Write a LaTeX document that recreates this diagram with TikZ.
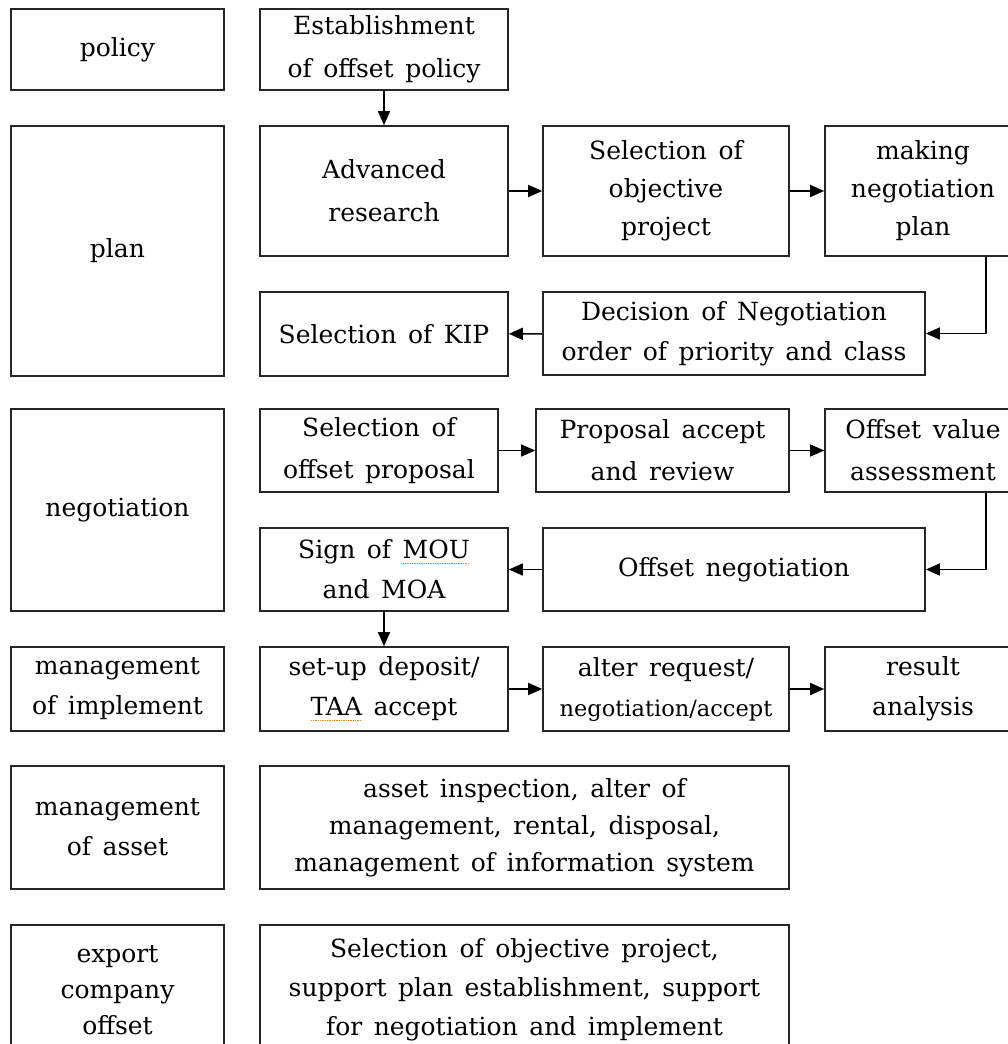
\documentclass[tikz,border=0pt]{standalone}
\usepackage{fontspec}
\setmainfont{DejaVu Serif}
\usetikzlibrary{arrows.meta}
\newsavebox\sqbox
\newcommand\squig[1]{\sbox\sqbox{#1}\rlap{\color{orange}\lower5pt\hbox to\wd\sqbox{\xleaders\hbox{\rule{1.3pt}{1.3pt}\hskip1pt}\hfill}}\usebox\sqbox}
\newcommand\fs[2]{\fontsize{#1}{#2}\selectfont\spaceskip=0.46em plus 0.1em minus 0.05em\relax}
\begin{document}
\begin{tikzpicture}[x=1pt,y=-1pt,
  box/.style={draw=black!85, line width=1.6pt, rectangle, align=center, inner sep=0pt,
    font=\fs{25}{40}},
  arr/.style={-{Triangle[length=14pt,width=12pt]}, line width=1.5pt, draw=black}]
\useasboundingbox (0,0) rectangle (1008,1044);
\clip (0,0) rectangle (1008,1044);
% left column
\node[box, minimum width=213pt, minimum height=81pt]  (pol)  at (117.5,49.5) {policy};
\node[box, minimum width=213pt, minimum height=250pt] (plan) at (117.5,251)  {plan};
\node[box, minimum width=213pt, minimum height=202pt] (neg)  at (117.5,510)  {negotiation};
\node[box, minimum width=213pt, minimum height=84pt]  (mim)  at (117.5,689)  {management\\of implement};
\node[box, minimum width=213pt, minimum height=123pt] (mas)  at (117.5,827.5) {management\\of asset};
\node[box, minimum width=213pt, minimum height=130pt, font=\fs{25}{36}] (exp) at (117.5,990) {export\\company\\offset};
% policy row
\node[box, minimum width=248pt, minimum height=81pt, font=\fs{25}{43}]  (est)  at (384,49.5) {Establishment\\of offset policy};
% plan rows
\node[box, minimum width=248pt, minimum height=130pt, font=\fs{25}{43}] (adv)  at (384,191) {Advanced\\research};
\node[box, minimum width=246pt, minimum height=130pt, font=\fs{25}{38}] (selobj) at (666,191) {Selection of\\objective\\project};
\node[box, minimum width=196pt, minimum height=130pt, font=\fs{25}{38}] (mk) at (923,191) {making\\negotiation\\plan};
\node[box, minimum width=248pt, minimum height=84pt]  (kip)  at (384,334) {Selection of KIP};
\node[box, minimum width=382pt, minimum height=83pt]  (dec)  at (734,333.5) {Decision of Negotiation\\order of priority and class};
% negotiation rows
\node[box, minimum width=238pt, minimum height=83pt, font=\fs{25}{42}]  (selprop) at (379,450.5) {Selection of\\offset proposal};
\node[box, minimum width=253pt, minimum height=83pt, font=\fs{25}{42}]  (prop) at (662.5,450.5) {Proposal accept\\and review};
\node[box, minimum width=196pt, minimum height=83pt, font=\fs{25}{42}]  (ofv)  at (923,450.5) {Offset value\\assessment};
\node[box, minimum width=248pt, minimum height=83pt]  (sign) at (384,569.5) {Sign of \squig{MOU}\\and MOA};
\node[box, minimum width=382pt, minimum height=83pt]  (ofn)  at (734,569.5) {Offset negotiation};
% implement row
\node[box, minimum width=248pt, minimum height=84pt]  (setup) at (384,689) {set-up deposit/\\\squig{TAA} accept};
\node[box, minimum width=246pt, minimum height=84pt] (alt) at (666,689) {alter request/\\{\fs{22.5}{40}negotiation/accept}};
\node[box, minimum width=196pt, minimum height=84pt]  (res)  at (923,689) {result\\analysis};
% asset and export
\node[box, minimum width=529pt, minimum height=123pt, font=\fs{25}{37}] (asi) at (524.5,827.5) {asset inspection, alter of\\management, rental, disposal,\\management of information system};
\node[box, minimum width=529pt, minimum height=130pt, font=\fs{25}{39}] (sup) at (524.5,990) {Selection of objective project,\\support plan establishment, support\\for negotiation and implement};
% connectors
\draw[arr] (est) -- (adv);
\draw[arr] (adv) -- (selobj);
\draw[arr] (selobj) -- (mk);
\draw[arr] (mk.south) ++(63,0) |- (dec.east);
\draw[arr] (dec) -- (kip);
\draw[arr] (selprop) -- (prop);
\draw[arr] (prop) -- (ofv);
\draw[arr] (ofv.south) ++(63,0) |- (ofn.east);
\draw[arr] (ofn) -- (sign);
\draw[arr] (sign) -- (setup);
\draw[arr] (setup) -- (alt);
\draw[arr] (alt) -- (res);
\end{tikzpicture}
\end{document}
